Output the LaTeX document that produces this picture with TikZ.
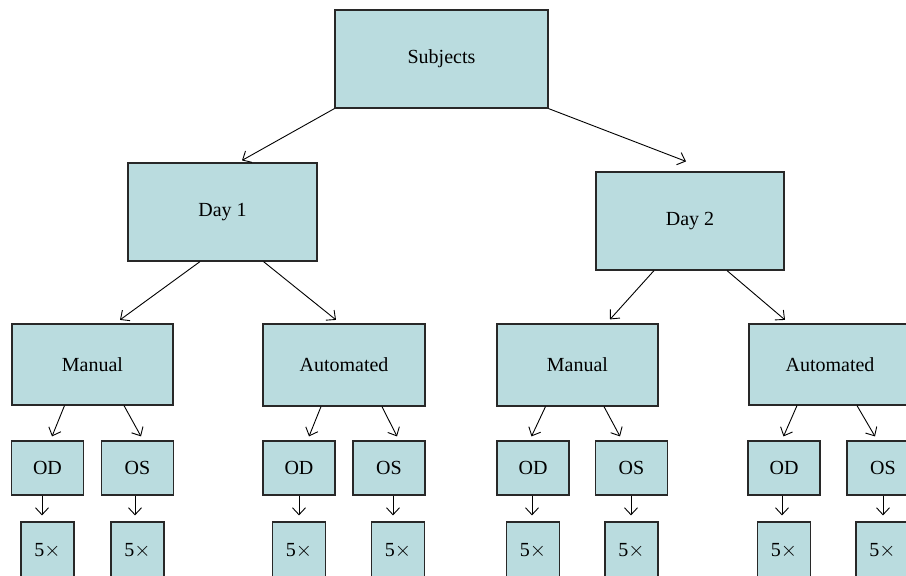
\documentclass[tikz,border=0pt]{standalone}
\usepackage{fontspec}
\setmainfont{Liberation Serif}
\usepackage{tikz}
\usetikzlibrary{positioning, arrows.meta}

\definecolor{boxfill}{RGB}{186,220,223}
\definecolor{boxline}{RGB}{40,40,40}

\tikzset{
    box/.style={draw=boxline, fill=boxfill, line width=1.2pt, inner sep=0pt,
        font=\fontsize{20}{24}\selectfont},
    arr/.style={draw=black, line width=0.9pt, -{Straight Barb[length=7pt,width=13pt]}}
}

\begin{document}
\begin{tikzpicture}[x=1pt, y=-1pt]
    \useasboundingbox (0,0) rectangle (906,576);
    \clip (0,0) rectangle (906,576);

    % top levels
    \node[box, minimum width=213pt, minimum height=98pt] (subj) at (441.5,59) {Subjects};
    \node[box, minimum width=189pt, minimum height=98pt] (day1) at (222.5,212) {Day 1};
    \node[box, minimum width=188pt, minimum height=98pt] (day2) at (690,221) {Day 2};

    \node[box, minimum width=161pt, minimum height=81pt] (man1) at (92.5,364.5) {Manual};
    \node[box, minimum width=162pt, minimum height=82pt] (aut1) at (344,365) {Automated};
    \node[box, minimum width=161pt, minimum height=82pt] (man2) at (577.5,365) {Manual};
    \node[box, minimum width=162pt, minimum height=81pt] (aut2) at (830,364.5) {Automated};

    \draw[arr] (subj.south west) -- ([xshift=19.5pt, yshift=2pt]day1.north);
    \draw[arr] (subj.south east) -- ([xshift=-4pt, yshift=10pt]day2.north);

    \draw[arr] ([xshift=-22.5pt]day1.south) -- ([xshift=27.5pt, yshift=3.5pt]man1.north);
    \draw[arr] ([xshift=41pt]day1.south) -- ([xshift=-8pt, yshift=3.5pt]aut1.north);
    \draw[arr] ([xshift=-36pt]day2.south) -- ([xshift=32.5pt, yshift=4pt]man2.north);
    \draw[arr] ([xshift=37pt]day2.south) -- ([xshift=-45pt, yshift=3.5pt]aut2.north);

    % eyes and repeats
    \foreach \n/\t/\x/\rx/\ax/\p/\s/\e in {
        od1/OD/47.5/47.5/42/man1/-28/52,
        os1/OS/137.5/137.5/135/man1/31.5/141,
        od2/OD/299/299/299/aut1/-23/309,
        os2/OS/389/398/393/aut1/38/397,
        od3/OD/533/533/532/man2/-32/531.5,
        os3/OS/631.5/631.5/631/man2/26.5/620,
        od4/OD/784/784/782/aut2/-33/783.5,
        os4/OS/883/882.5/883/aut2/27/875} {
        \node[box, minimum width=72pt, minimum height=54pt] (\n) at (\x,468) {\t};
        \node[box, minimum width=53pt, minimum height=58pt] (r\n) at (\rx,551) {5$\times$};
        \draw[arr] ([xshift=\s pt]\p.south) -- ([xshift=\e pt-\x pt, yshift=4pt]\n.north);
        \draw[arr] ([xshift=\ax pt-\x pt]\n.south) -- ([xshift=\ax pt-\rx pt, yshift=6pt]r\n.north);
    }
\end{tikzpicture}
\end{document}
